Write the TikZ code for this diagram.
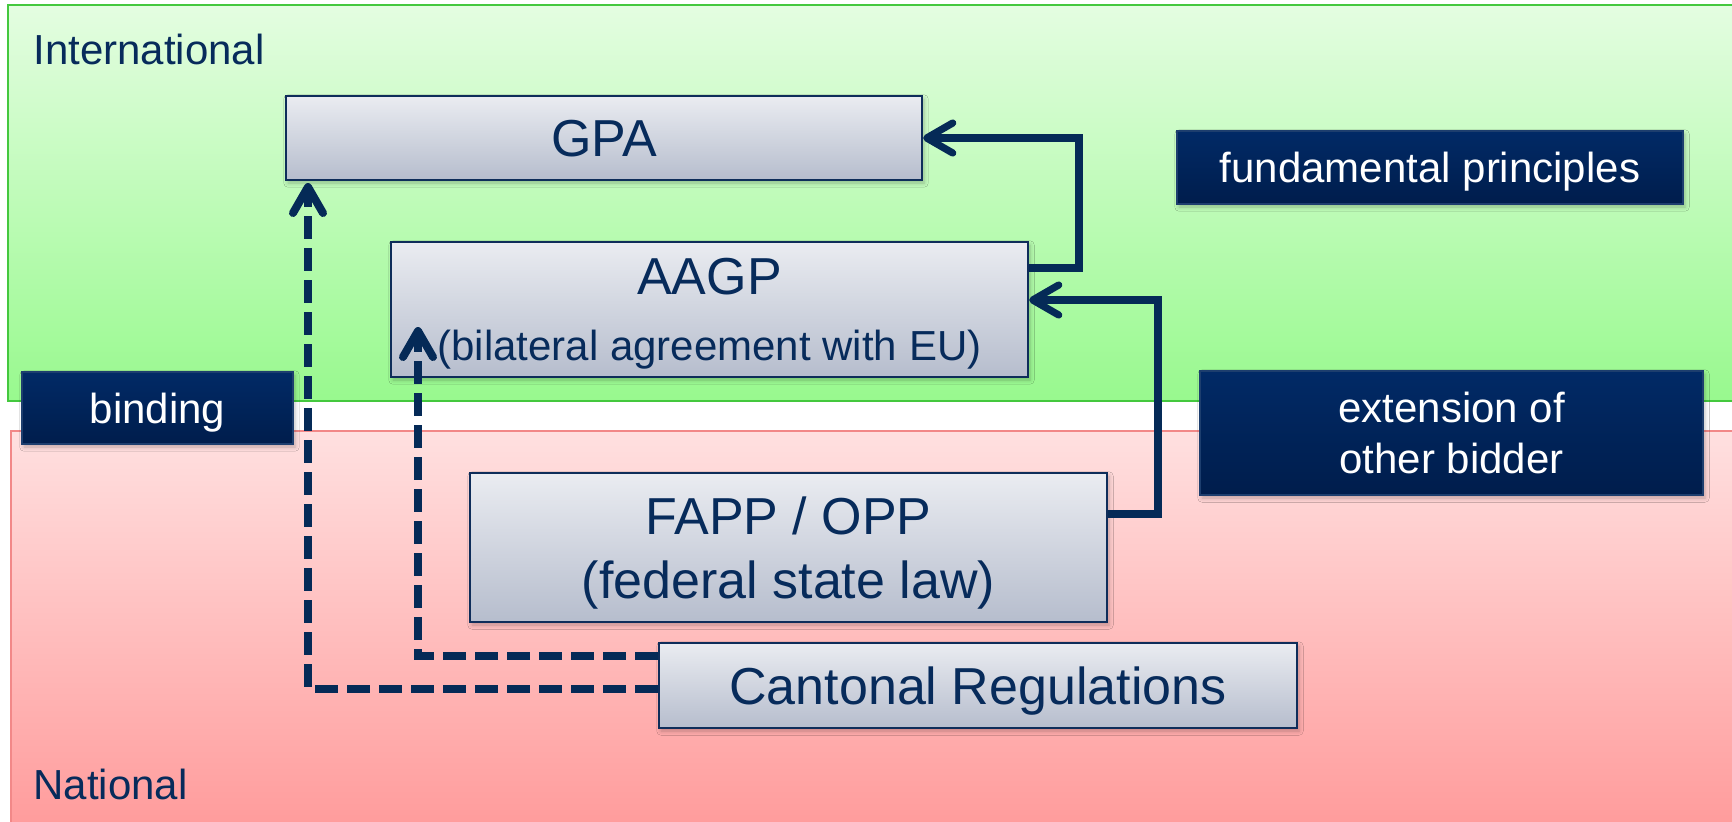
\documentclass[tikz,border=0pt]{standalone}
\usepackage{fontspec}
\setmainfont{Liberation Sans}
\usetikzlibrary{arrows.meta,shadows.blur}
\definecolor{grnT}{HTML}{E4FDE1}
\definecolor{grnB}{HTML}{98F98E}
\definecolor{grnL}{HTML}{44C83E}
\definecolor{redT}{HTML}{FFE0E0}
\definecolor{redB}{HTML}{FF9A9A}
\definecolor{redL}{HTML}{F28888}
\definecolor{boxT}{HTML}{EAECF1}
\definecolor{boxB}{HTML}{B6BDCD}
\definecolor{boxL}{HTML}{0E2D5A}
\definecolor{dkT}{HTML}{012A66}
\definecolor{dkB}{HTML}{001D4C}
\definecolor{dkL}{HTML}{1D3E6E}
\definecolor{txt}{HTML}{072B5B}
\definecolor{lnc}{HTML}{052A57}
\newcommand{\fBig}{\fontsize{26}{32}\selectfont}
\newcommand{\fSmall}{\fontsize{21}{25.5}\selectfont}
\begin{document}
\begin{tikzpicture}[x=0.5pt,y=-0.5pt,
  panelG/.style={draw=grnL, line width=1.2pt, top color=grnT, bottom color=grnB},
  panelR/.style={draw=redL, line width=1.2pt, top color=redT, bottom color=redB},
  lightbox/.style={draw=boxL, line width=1.1pt, top color=boxT, bottom color=boxB,
    text=txt, font=\fBig, align=center, text depth=0pt, inner sep=0pt,
    blur shadow={shadow xshift=1pt, shadow yshift=-1.5pt, shadow opacity=25, shadow blur steps=5}},
  darkbox/.style={draw=dkL, line width=0.6pt, top color=dkT, bottom color=dkB,
    text=white, font=\fSmall, align=center, text depth=0pt, inner sep=0pt,
    blur shadow={shadow xshift=1pt, shadow yshift=-1.5pt, shadow opacity=25, shadow blur steps=5}},
  zonelabel/.style={text=txt, font=\fSmall, anchor=base west, inner sep=0pt},
  conn/.style={draw=lnc, line width=3.6pt, line join=miter,
    -{Straight Barb[length=13pt, width=15pt, round]}},
  dashconn/.style={conn, line width=4pt, dash pattern=on 11.5pt off 4.5pt}
]
\useasboundingbox (0,0) rectangle (1732,821);
\fill[white] (0,0) rectangle (1732,821);

% zones
\path[panelG] (8,5) rectangle (1745,401);
\path[panelR] (11,431) rectangle (1745,835);
\node[zonelabel] (intl) at (33,64) {International};
\node[zonelabel] (natl) at (33,799) {National};

% boxes
\node[lightbox, minimum width=318pt, minimum height=42pt] (GPA) at (604,138) {GPA};
\node[lightbox, minimum width=318.5pt, minimum height=67.5pt] (AAGP) at (709.5,309.5)
  {AAGP\\[1pt]{\fSmall (bilateral agreement with EU)}};
\node[lightbox, minimum width=318.5pt, minimum height=74.5pt] (FAPP) at (788.5,547.5)
  {FAPP / OPP\\(federal state law)};
\node[lightbox, minimum width=319pt, minimum height=42.5pt] (CANT) at (978,685.5)
  {Cantonal Regulations};

\node[darkbox, minimum width=253pt, minimum height=36.5pt] (fund) at (1430,167.5)
  {fundamental principles};
\node[darkbox, minimum width=251.5pt, minimum height=62pt] (ext) at (1451.5,433)
  {extension of\\other bidder};
\node[darkbox, minimum width=135.5pt, minimum height=36pt] (bind) at (157.5,408)
  {binding};

% connector bend points / free ends
\coordinate (r1) at (1079,138);
\coordinate (r2) at (1158,300);
\coordinate (t3) at (418,327);
\coordinate (t4) at (308,183);

% connectors
\draw[conn] ([yshift=20.75pt]AAGP.east) -| (r1) -- (GPA.east |- r1);
\draw[conn] ([yshift=16.75pt]FAPP.east) -| (r2) -- (AAGP.east |- r2);
\draw[dashconn] ([yshift=14.75pt]CANT.west) -| (t3);
\draw[dashconn] ([yshift=-1.75pt]CANT.west) -| (t4);
\end{tikzpicture}
\end{document}
